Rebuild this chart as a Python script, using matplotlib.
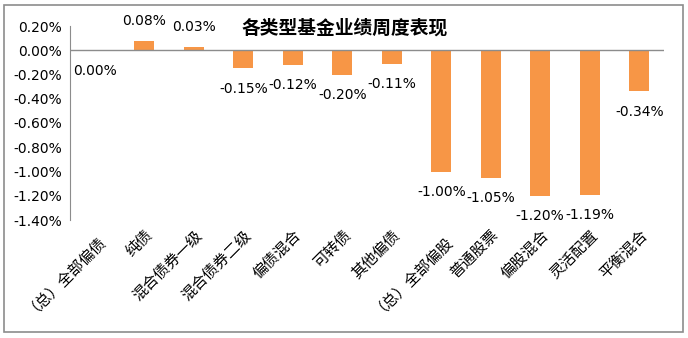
import matplotlib
matplotlib.use("Agg")
import matplotlib.pyplot as plt
from matplotlib.patches import Rectangle
from matplotlib.ticker import FuncFormatter

plt.rcParams['font.family'] = ['Noto Sans CJK SC', 'DejaVu Sans']

title = "各类型基金业绩周度表现"
categories = ["（总）全部偏债", "纯债", "混合债券一级", "混合债券二级", "偏债混合", "可转债",
              "其他偏债", "（总）全部偏股", "普通股票", "偏股混合", "灵活配置", "平衡混合"]
values = [-0.003, 0.08, 0.03, -0.15, -0.12, -0.20, -0.11, -1.00, -1.05, -1.20, -1.19, -0.34]
yticks = [0.2, 0.0, -0.2, -0.4, -0.6, -0.8, -1.0, -1.2, -1.4]

bar_color = "#F79646"

fig = plt.figure(figsize=(6.88, 3.38), dpi=100)
fig.patches.append(Rectangle((4/688, 1-332/338), 679/688, 327/338, transform=fig.transFigure,
                             fill=False, edgecolor="#8c8c8c", linewidth=1.2))
ax = fig.add_axes([70/688, 1-220/338, (664-70)/688, (220-26)/338])

x = list(range(len(categories)))
ax.bar(x, values, width=0.4, color=bar_color, zorder=2)
ax.set_xlim(-0.5, len(categories)-0.5)
ax.set_ylim(-1.4, 0.2)
ax.axhline(0, color="#8c8c8c", linewidth=1.0, zorder=3)

for xi, v in zip(x, values):
    s = f"{v:.2f}%"
    if s == "-0.00%":
        s = "0.00%"
    if v >= 0:
        ax.annotate(s, (xi, v), xytext=(0, 9), textcoords="offset points",
                    ha="center", va="bottom", fontsize=10, family="DejaVu Sans")
    else:
        ax.annotate(s, (xi, v), xytext=(0, -9.5), textcoords="offset points",
                    ha="center", va="top", fontsize=10, family="DejaVu Sans")

ax.set_yticks(yticks)
ax.yaxis.set_major_formatter(FuncFormatter(lambda v, p: f"{v:.2f}%"))
for lab in ax.get_yticklabels():
    lab.set_family("DejaVu Sans")
    lab.set_fontsize(10)
ax.tick_params(axis="y", length=0, pad=6)
ax.set_xticks(x)
ax.set_xticklabels(categories, rotation=45, ha="right", rotation_mode="anchor", fontsize=11)
ax.tick_params(axis="x", length=0, pad=5)

for sp in ["top", "right", "bottom"]:
    ax.spines[sp].set_visible(False)
ax.spines["left"].set_color("#8c8c8c")

fig.text(345/688, 1-28/338, title, ha="center", va="center", fontsize=13.5, fontweight="bold")

fig.savefig("out.png", dpi=100)
